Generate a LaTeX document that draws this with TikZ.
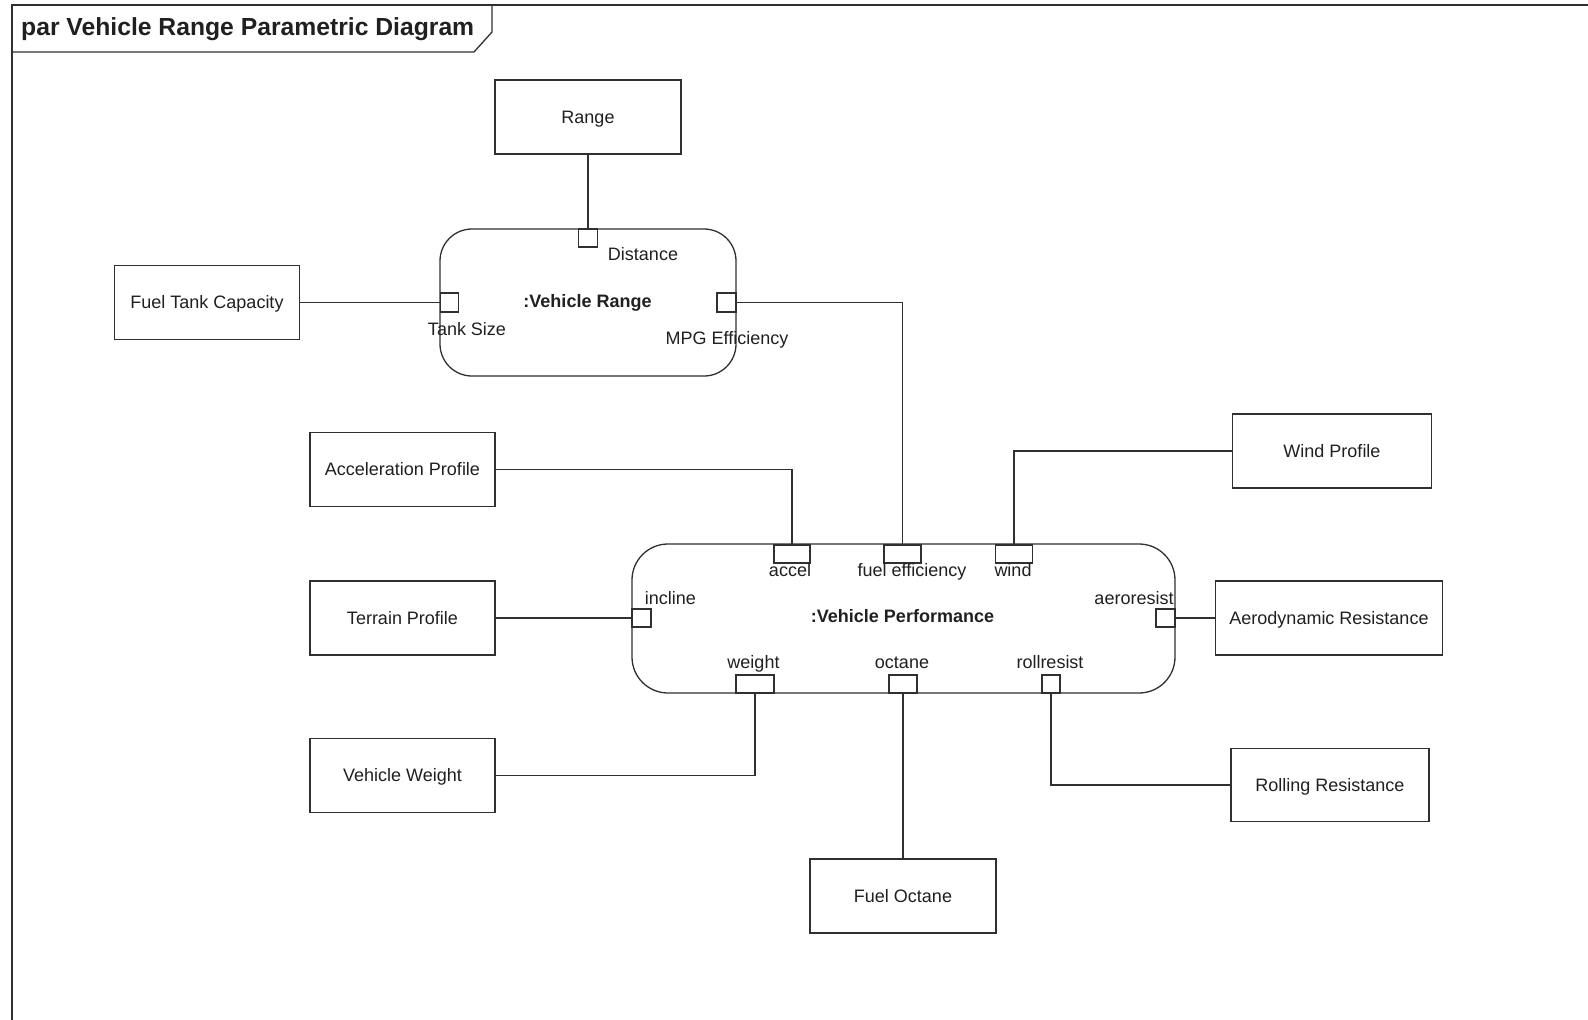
\documentclass[tikz,border=0pt]{standalone}
\usepackage{fontspec}
\setmainfont{Liberation Sans}
\definecolor{ln}{HTML}{303030}
\definecolor{txt}{HTML}{202020}
\begin{document}
\begin{tikzpicture}[x=1pt,y=-1pt,
  every node/.style={font=\fontsize{18}{21}\selectfont, text=txt},
  blk/.style={draw=ln, line width=1.3pt, fill=white, minimum width=#1, minimum height=74pt, inner sep=0pt, text height=14.5pt, text depth=2.5pt},
  cons/.style={draw=ln, line width=1.3pt, fill=white, rounded corners=#1, inner sep=0pt},
  prt/.style={draw=ln, line width=1.3pt, fill=white, inner sep=0pt, minimum height=18pt, minimum width=#1},
  lbl/.style={inner sep=0pt, anchor=base},
  wire/.style={draw=ln, line width=1.3pt}]
\useasboundingbox (0,0) rectangle (1588,1020);
\fill[white] (0,0) rectangle (1588,1020);
% frame
\draw[ln, line width=2pt] (12,1020) -- (12,5) -- (1588,5);
\draw[ln, line width=1.3pt] (492,5) -- (492,32) -- (474,52) -- (12,52);
\node[lbl, anchor=base west, font=\fontsize{24.7}{28}\selectfont\bfseries] (title) at (21,35.7) {par Vehicle Range Parametric Diagram};

% constraint blocks
\node[cons=32pt, minimum width=296pt, minimum height=147pt] (vr) at (588,302.5) {};
\node[lbl, font=\fontsize{18}{21}\selectfont\bfseries] (vrt) at (587.5,307.2) {:Vehicle Range};
\node[cons=36pt, minimum width=543pt, minimum height=149pt] (vp) at (903.5,618.5) {};
\node[lbl, font=\fontsize{18}{21}\selectfont\bfseries] (vpt) at (902.5,622.2) {:Vehicle Performance};

% value boxes
\node[blk=186pt] (range) at (588,117) {Range};
\node[blk=185pt] (ftc) at (207,302.5) {Fuel Tank Capacity};
\node[blk=185pt] (ap) at (402.5,469.5) {Acceleration Profile};
\node[blk=185pt] (tp) at (402.5,618) {Terrain Profile};
\node[blk=185pt] (vw) at (402.5,775.5) {Vehicle Weight};
\node[blk=186pt] (fo) at (903,896) {Fuel Octane};
\node[blk=198pt, minimum height=73pt] (rr) at (1330,785) {Rolling Resistance};
\node[blk=227pt] (ar) at (1329,618) {Aerodynamic Resistance};
\node[blk=199pt] (wp) at (1332,451) {Wind Profile};

% ports on Vehicle Range
\node[prt=19pt] (pdist) at (588,238) {};
\node[prt=18pt, minimum height=19pt] (ptank) at (449.2,302.5) {};
\node[prt=19pt, minimum height=19pt] (pmpg) at (726.5,302.5) {};
% ports on Vehicle Performance
\node[prt=36pt] (pacc) at (792,554) {};
\node[prt=37pt] (pfe) at (902.5,554) {};
\node[prt=37pt] (pwind) at (1014,554) {};
\node[prt=19pt] (pinc) at (641.5,618) {};
\node[prt=19pt] (paero) at (1165.5,618) {};
\node[prt=38pt] (pw) at (755,684) {};
\node[prt=28pt] (poct) at (903,684) {};
\node[prt=18pt] (proll) at (1051,684) {};

% port labels
\node[lbl] (ldist) at (643,260.6) {Distance};
\node[lbl] (ltank) at (467,335.6) {Tank Size};
\node[lbl] (lmpg) at (727,344.7) {MPG Efficiency};
\node[lbl] (lacc) at (790,576.6) {accel};
\node[lbl] (lfe) at (912,576.6) {fuel efficiency};
\node[lbl] (lwind) at (1013,576.6) {wind};
\node[lbl] (linc) at (670.5,604) {incline};
\node[lbl] (laero) at (1134,604) {aeroresist};
\node[lbl] (lw) at (753.5,668.8) {weight};
\node[lbl] (loct) at (902,668.8) {octane};
\node[lbl] (lroll) at (1050,668.8) {rollresist};

% connectors
\draw[wire] (range.south) -- (pdist.north);
\draw[wire] (ftc.east) -- (ptank.west);
\draw[wire] (pmpg.east) -| (pfe.north);
\draw[wire] (ap.east) -| (pacc.north);
\draw[wire] (wp.west) -| (pwind.north);
\draw[wire] (tp.east) -- (pinc.west);
\draw[wire] (paero.east) -- (ar.west);
\draw[wire] (pw.south) |- (vw.east);
\draw[wire] (poct.south) -- (fo.north);
\draw[wire] (proll.south) |- (rr.west);
\end{tikzpicture}
\end{document}
